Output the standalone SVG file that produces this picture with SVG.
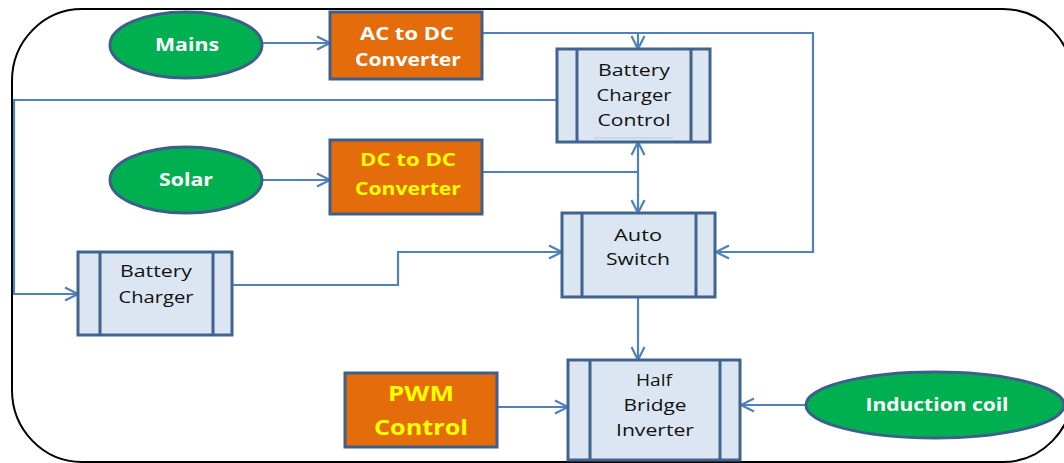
<svg xmlns="http://www.w3.org/2000/svg" width="1064" height="463" viewBox="0 0 1064 463">
<defs>
<marker id="arr" viewBox="0 0 16 16" refX="14.5" refY="8" markerWidth="16" markerHeight="16" markerUnits="userSpaceOnUse" orient="auto">
<path d="M1.5,1.5 L14.5,8 L1.5,14.5" fill="none" stroke="#4F81BD" stroke-width="2.2" stroke-linejoin="miter"/>
</marker>
</defs>
<style>
.conn{fill:none;stroke:#4F81BD;stroke-width:2.2}
.oval{fill:#00B050;stroke:#3C5F8C;stroke-width:3}
.orange{fill:#E46C0A;stroke:#3C5F8C;stroke-width:3}
.proc{fill:#DCE6F2;stroke:#41648F;stroke-width:3}
.bar{stroke:#41648F;stroke-width:3}
.wt{font-family:"Open Sans","Liberation Sans",sans-serif;font-weight:bold;font-size:18px;fill:#FFFFFF;text-anchor:middle}
.yt{font-family:"Open Sans","Liberation Sans",sans-serif;font-weight:bold;font-size:18px;fill:#FFFF00;text-anchor:middle}
.bt{font-family:"Open Sans","Liberation Sans",sans-serif;font-size:16px;fill:#111111;text-anchor:middle}
</style>
<rect x="12" y="9" width="1061" height="453" rx="70" ry="72" fill="#FFFFFF" stroke="#000000" stroke-width="2"/>
<g id="connectors">
<path class="conn" d="M262,43 H330" marker-end="url(#arr)"/>
<path class="conn" d="M482,33 H813 V252 H716" marker-end="url(#arr)"/>
<path class="conn" d="M638,33 V49" marker-end="url(#arr)"/>
<path class="conn" d="M557,100 H14 V294 H78" marker-end="url(#arr)"/>
<path class="conn" d="M262,180 H330" marker-end="url(#arr)"/>
<path class="conn" d="M482,172 H638"/>
<path class="conn" d="M638,172 V142" marker-end="url(#arr)"/>
<path class="conn" d="M638,172 V213" marker-end="url(#arr)"/>
<path class="conn" d="M232,285 H398 V252 H562" marker-end="url(#arr)"/>
<path class="conn" d="M638,297 V360" marker-end="url(#arr)"/>
<path class="conn" d="M497,407 H568" marker-end="url(#arr)"/>
<path class="conn" d="M806,405 H741" marker-end="url(#arr)"/>
</g>
<g id="mains">
<ellipse class="oval" cx="186" cy="45" rx="76" ry="33"/>
<text class="wt" x="187" y="51" textLength="64" lengthAdjust="spacingAndGlyphs">Mains</text>
</g>
<g id="ac-dc">
<rect class="orange" x="330" y="12" width="152" height="67"/>
<text class="wt" x="407" y="40" textLength="94" lengthAdjust="spacingAndGlyphs">AC to DC</text>
<text class="wt" x="408" y="66" textLength="106" lengthAdjust="spacingAndGlyphs">Converter</text>
</g>
<g id="battery-charger-control">
<rect class="proc" x="557" y="49" width="153" height="93"/>
<line class="bar" x1="577" y1="49" x2="577" y2="142"/>
<line class="bar" x1="691" y1="49" x2="691" y2="142"/>
<text class="bt" x="634" y="76" textLength="72" lengthAdjust="spacingAndGlyphs">Battery</text>
<text class="bt" x="634" y="101" textLength="75" lengthAdjust="spacingAndGlyphs">Charger</text>
<text class="bt" x="634" y="126" textLength="73" lengthAdjust="spacingAndGlyphs">Control</text>
<line x1="594" y1="138" x2="673" y2="138" stroke="#B8C8DC" stroke-width="1"/>
</g>
<g id="solar">
<ellipse class="oval" cx="186" cy="180" rx="76" ry="33"/>
<text class="wt" x="186" y="186" textLength="54" lengthAdjust="spacingAndGlyphs">Solar</text>
</g>
<g id="dc-dc">
<rect class="orange" x="330" y="140" width="152" height="74"/>
<text class="yt" x="408" y="166" textLength="96" lengthAdjust="spacingAndGlyphs">DC to DC</text>
<text class="yt" x="408" y="195" textLength="106" lengthAdjust="spacingAndGlyphs">Converter</text>
</g>
<g id="auto-switch">
<rect class="proc" x="562" y="213" width="153" height="84"/>
<line class="bar" x1="582" y1="213" x2="582" y2="297"/>
<line class="bar" x1="696" y1="213" x2="696" y2="297"/>
<text class="bt" x="638" y="241" textLength="48" lengthAdjust="spacingAndGlyphs">Auto</text>
<text class="bt" x="638" y="265" textLength="64" lengthAdjust="spacingAndGlyphs">Switch</text>
</g>
<g id="battery-charger">
<rect class="proc" x="78" y="252" width="154" height="83"/>
<line class="bar" x1="100" y1="252" x2="100" y2="335"/>
<line class="bar" x1="213" y1="252" x2="213" y2="335"/>
<text class="bt" x="156" y="277" textLength="72" lengthAdjust="spacingAndGlyphs">Battery</text>
<text class="bt" x="156" y="303" textLength="75" lengthAdjust="spacingAndGlyphs">Charger</text>
</g>
<g id="pwm-control">
<rect class="orange" x="345" y="373" width="152" height="74"/>
<text class="yt" x="421" y="401" style="font-size:21px" textLength="66" lengthAdjust="spacingAndGlyphs">PWM</text>
<text class="yt" x="421" y="435" style="font-size:21px" textLength="94" lengthAdjust="spacingAndGlyphs">Control</text>
</g>
<g id="half-bridge-inverter">
<rect class="proc" x="568" y="360" width="172" height="100"/>
<line class="bar" x1="590" y1="360" x2="590" y2="460"/>
<line class="bar" x1="720" y1="360" x2="720" y2="460"/>
<text class="bt" x="654" y="386" textLength="36" lengthAdjust="spacingAndGlyphs">Half</text>
<text class="bt" x="655" y="411" textLength="63" lengthAdjust="spacingAndGlyphs">Bridge</text>
<text class="bt" x="655" y="436" textLength="78" lengthAdjust="spacingAndGlyphs">Inverter</text>
</g>
<g id="induction-coil">
<ellipse class="oval" cx="935" cy="405" rx="129" ry="33"/>
<text class="wt" x="937" y="411" textLength="143" lengthAdjust="spacingAndGlyphs">Induction coil</text>
</g>
</svg>
